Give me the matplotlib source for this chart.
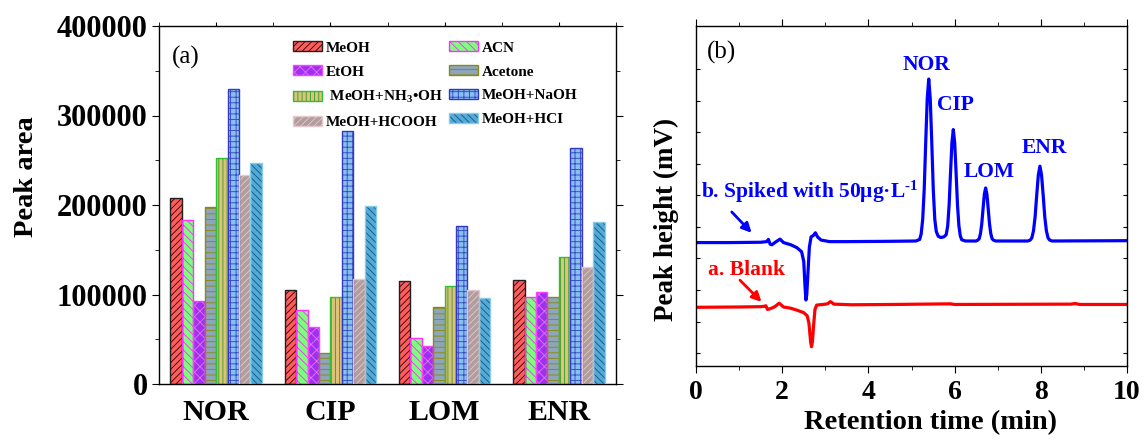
import numpy as np
import matplotlib
matplotlib.use("Agg")
import matplotlib.pyplot as plt
from matplotlib.ticker import MultipleLocator, FixedLocator, NullFormatter
from matplotlib.legend_handler import HandlerTuple

plt.rcParams['font.family'] = ['Liberation Serif', 'DejaVu Serif']
plt.rcParams['mathtext.fontset'] = 'custom'
plt.rcParams['mathtext.rm'] = 'Liberation Serif'
plt.rcParams['mathtext.bf'] = 'Liberation Serif:bold'
plt.rcParams['mathtext.it'] = 'Liberation Serif:italic'
plt.rcParams['hatch.linewidth'] = 0.65

# ---------------- data: panel (a) ----------------
categories = ['NOR', 'CIP', 'LOM', 'ENR']
series_names = ['MeOH', 'ACN', 'EtOH', 'Acetone',
                ' MeOH+NH$_\\mathbf{3}$•OH', 'MeOH+NaOH', 'MeOH+HCOOH', 'MeOH+HCI']
meoh = [208000, 105000, 115500, 116500]
acn = [183000, 82500, 51500, 97000]
etoh = [93000, 64000, 43000, 102500]
acetone = [198000, 35000, 86500, 97500]
meoh_nh3 = [253000, 97500, 109000, 142000]
meoh_naoh = [330000, 283000, 176000, 263500]
meoh_hcooh = [234000, 117500, 104500, 131000]
meoh_hcl = [247000, 198500, 96000, 181500]
series_values = [meoh, acn, etoh, acetone, meoh_nh3, meoh_naoh, meoh_hcooh, meoh_hcl]

# ---------------- data: panel (b) ----------------
spiked = [(0, 3.50), (0.8, 3.50), (1.50, 3.51), (1.64, 3.53), (1.68, 3.60), (1.72, 3.45),
          (1.76, 3.43), (1.85, 3.52), (1.95, 3.61), (2.03, 3.50), (2.20, 3.43), (2.34, 3.34),
          (2.45, 3.21), (2.50, 2.90), (2.53, 2.10), (2.55, 1.68), (2.57, 1.85), (2.60, 2.60),
          (2.63, 3.35), (2.67, 3.68), (2.72, 3.72), (2.77, 3.81), (2.82, 3.68), (2.90, 3.58),
          (3.10, 3.53), (3.5, 3.53), (4.5, 3.54), (5.10, 3.55), (5.19, 3.60), (5.225, 3.78),
          (5.26, 4.24), (5.295, 5.19), (5.33, 6.68), (5.365, 8.06), (5.40, 8.68), (5.435, 8.06),
          (5.47, 6.68), (5.505, 5.19), (5.54, 4.24), (5.575, 3.85), (5.62, 3.70), (5.68, 3.66),
          (5.75, 3.68), (5.805, 3.75), (5.84, 4.03), (5.8725, 4.68), (5.905, 5.70), (5.9375, 6.66),
          (5.97, 7.08), (6.0025, 6.66), (6.035, 5.70), (6.0675, 4.68), (6.10, 4.03), (6.1325, 3.71),
          (6.165, 3.59), (6.25, 3.55), (6.50, 3.55), (6.54, 3.58), (6.57, 3.62), (6.60, 3.78),
          (6.63, 4.09), (6.66, 4.57), (6.69, 5.03), (6.72, 5.23), (6.75, 5.03), (6.78, 4.57),
          (6.81, 4.09), (6.84, 3.78), (6.87, 3.62), (6.90, 3.58), (6.95, 3.55), (7.70, 3.55),
          (7.755, 3.58), (7.7925, 3.65), (7.83, 3.87), (7.8675, 4.31), (7.905, 5.00), (7.9425, 5.64),
          (7.98, 5.92), (8.0175, 5.64), (8.055, 5.00), (8.0925, 4.31), (8.13, 3.87), (8.1675, 3.65),
          (8.205, 3.58), (8.26, 3.55), (10.0, 3.56)]
blank = [(0, 1.45), (1.0, 1.46), (1.50, 1.47), (1.58, 1.48), (1.62, 1.50), (1.66, 1.38),
         (1.75, 1.42), (1.83, 1.47), (1.93, 1.58), (2.03, 1.46), (2.20, 1.42), (2.34, 1.36),
         (2.50, 1.28), (2.58, 1.18), (2.62, 0.95), (2.66, 0.35), (2.68, 0.20), (2.70, 0.35),
         (2.73, 0.90), (2.76, 1.38), (2.80, 1.52), (2.95, 1.54), (3.05, 1.56), (3.12, 1.63),
         (3.20, 1.55), (3.6, 1.53), (4.6, 1.54), (5.9, 1.56), (6.0, 1.54), (8.7, 1.55),
         (8.8, 1.57), (8.9, 1.54), (10.0, 1.54)]
peak_labels = ['NOR', 'CIP', 'LOM', 'ENR']
peak_label_pos = [(5.34, 9.11), (6.01, 7.85), (6.81, 5.73), (8.09, 6.49)]

# ---------------- styles ----------------
faces = ['#ff5c5c', '#7dff7d', '#a030f0', '#8ea6bc', '#dcc27a', '#86c0ee', '#b29c9c', '#52aad8']
hatch_cols = ['#3a0a0a', '#ff30ff', '#e070ff', '#8a8a10', '#3aa030', '#3a48c8', '#dccaca', '#1a5a80']
borders = ['#202020', '#ff30ff', '#ff40ff', '#8a8a10', '#30c030', '#3238c0', '#e8c8d0', '#8acbe8']
hatches = ['/////', '\\\\\\\\', 'xxx', '---', '||||', '+++', '/////', '\\\\\\\\\\']

fig = plt.figure(figsize=(11.44, 4.42), dpi=100)
ax = fig.add_axes([159 / 1144, 58 / 442, 457 / 1144, 358 / 442])
ax2 = fig.add_axes([696 / 1144, 76.3 / 442, 431 / 1144, 339.7 / 442])

# ---------------- panel (a) ----------------
x = np.arange(len(categories))
w = 0.1
handles = []
for i, vals in enumerate(series_values):
    pos = x + (i - 3.5) * w
    b1 = ax.bar(pos, vals, w, color=faces[i], edgecolor=hatch_cols[i], hatch=hatches[i],
                linewidth=0, zorder=2)
    b2 = ax.bar(pos, vals, w, fill=False, edgecolor=borders[i], linewidth=1.0, zorder=3)
    handles.append((b1[0], b2[0]))

ax.set_xlim(-0.5, 3.5)
ax.set_ylim(0, 400000)
ax.yaxis.set_major_locator(MultipleLocator(100000))
ax.yaxis.set_minor_locator(MultipleLocator(50000))
ax.set_xticks(x)
ax.set_xticklabels(categories)
ax.xaxis.set_minor_locator(MultipleLocator(0.5))
ax.tick_params(axis='x', which='both', bottom=False, top=True, direction='out', length=3,
               labelsize=21.5, pad=8)
ax.tick_params(axis='y', which='major', left=True, right=True, direction='out', length=5,
               labelsize=22, pad=3)
ax.tick_params(axis='y', which='minor', left=True, right=True, direction='out', length=3)
for lbl in ax.get_xticklabels() + ax.get_yticklabels():
    lbl.set_fontweight('bold')
ax.set_ylabel('Peak area', fontsize=20.5, fontweight='bold')
ax.yaxis.set_label_coords(-0.262, 0.578)
for s in ax.spines.values():
    s.set_linewidth(1.0)
ax.text(-0.385, 365000, '(a)', fontsize=18, va='center', ha='left')

order = [0, 2, 4, 6, 1, 3, 5, 7]
leg = ax.legend([handles[k] for k in order], [series_names[k] for k in order],
                handler_map={tuple: HandlerTuple(ndivide=1)},
                ncol=2, loc='upper left', bbox_to_anchor=(0.293, 0.957), frameon=False,
                prop={'family': 'Liberation Serif', 'weight': 'bold', 'size': 11},
                handlelength=1.9, handleheight=0.6, handletextpad=0.25,
                columnspacing=0.4, labelspacing=0.7, borderpad=0, borderaxespad=0)

# ---------------- panel (b) ----------------
ts, vs = zip(*spiked)
tb, vb = zip(*blank)
ax2.plot(ts, vs, color='#0000ff', lw=2.3, solid_joinstyle='round')
ax2.plot(tb, vb, color='#ff0000', lw=2.3, solid_joinstyle='round')
ax2.set_xlim(0, 10)
ax2.set_ylim(-0.4, 10.36)
ax2.xaxis.set_major_locator(MultipleLocator(2))
ax2.xaxis.set_minor_locator(MultipleLocator(1))
ax2.yaxis.set_major_locator(FixedLocator(list(range(10))))
ax2.yaxis.set_major_formatter(NullFormatter())
ax2.tick_params(axis='x', which='both', bottom=True, top=True, direction='out', labelsize=20)
ax2.tick_params(axis='x', which='major', length=5, pad=5)
ax2.tick_params(axis='x', which='minor', length=3)
ax2.tick_params(axis='y', which='both', left=True, right=True, direction='in', length=3)
for lbl in ax2.get_xticklabels():
    lbl.set_fontweight('bold')
for s in ax2.spines.values():
    s.set_linewidth(1.0)
ax2.set_xlabel('Retention time (min)', fontsize=20.5, fontweight='bold')
ax2.xaxis.set_label_coords(0.543, -0.13)
ax2.set_ylabel('Peak height (mV)', fontsize=19.5, fontweight='bold')
ax2.yaxis.set_label_coords(-0.04, 0.432)
ax2.text(0.255, 9.53, '(b)', fontsize=18, va='center', ha='left')
for name, (px, py) in zip(peak_labels, peak_label_pos):
    ax2.text(px, py, name, color='#0000ff', fontsize=15.5, fontweight='bold',
             ha='center', va='center')
ax2.text(0.11, 5.09, 'b. Spiked with 50μg·L$^{\\mathbf{\\text{-}1}}$', color='#0000ff',
         fontsize=15.5, fontweight='bold', ha='left', va='center')
ax2.text(0.285, 2.63, 'a. Blank', color='#ff0000', fontsize=15.5, fontweight='bold',
         ha='left', va='center')
ax2.annotate('', xy=(1.29, 3.81), xytext=(0.83, 4.47),
             arrowprops=dict(arrowstyle='-|>', color='#0000ff', lw=2.0, mutation_scale=14,
                             shrinkA=0, shrinkB=0))
ax2.annotate('', xy=(1.52, 1.62), xytext=(1.02, 2.31),
             arrowprops=dict(arrowstyle='-|>', color='#ff0000', lw=2.0, mutation_scale=14,
                             shrinkA=0, shrinkB=0))

fig.savefig('out.png', dpi=100)
